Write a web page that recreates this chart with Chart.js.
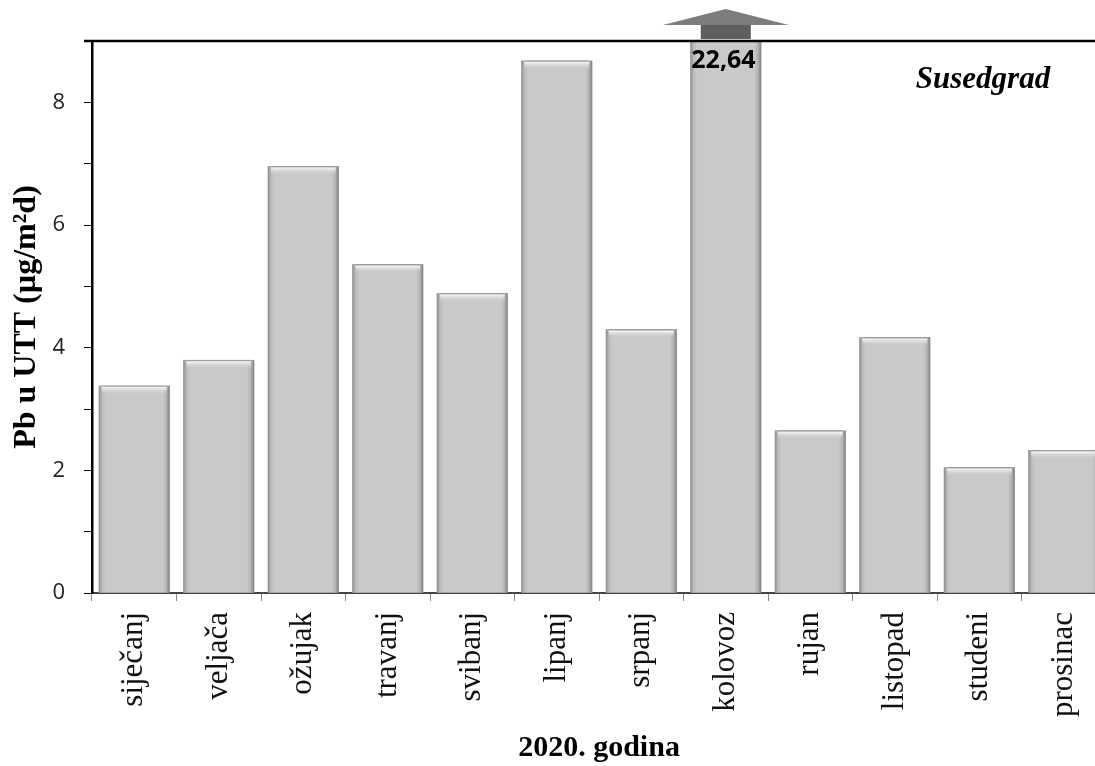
<!DOCTYPE html>
<html><head><meta charset="utf-8">
<script src="https://cdn.jsdelivr.net/npm/chart.js@4.4.1/dist/chart.umd.min.js"></script>
<style>
html,body{margin:0;padding:0;background:#fff;overflow:hidden;}
#wrap{width:1112px;height:766px;position:relative;}
</style></head>
<body>
<div id="wrap"><canvas id="c" width="1112" height="766"></canvas></div>
<script>
const months = ['siječanj','veljača','ožujak','travanj','svibanj','lipanj','srpanj','kolovoz','rujan','listopad','studeni','prosinac'];
const pbValues = [3.38, 3.80, 6.96, 5.36, 4.89, 8.68, 4.30, 22.64, 2.65, 4.17, 2.05, 2.33];
const yTickLabels = [0, 2, 4, 6, 8];
const outlierLabel = '22,64';
const stationName = 'Susedgrad';
const yTitle = 'Pb u UTT (µg/m²d)';
const xTitle = '2020. godina';
const Y_MAX = 9;

const decor = {
  id: 'decor',
  afterDatasetsDraw(chart) {
    const ctx = chart.ctx, area = chart.chartArea;
    const meta = chart.getDatasetMeta(0);
    ctx.save();
    ctx.beginPath(); ctx.rect(area.left, area.top, area.right - area.left, area.bottom - area.top); ctx.clip();
    meta.data.forEach(bar => {
      const l = bar.x - bar.width / 2, r = bar.x + bar.width / 2;
      const top = Math.max(bar.y, area.top), bot = bar.base;
      const g = ctx.createLinearGradient(l, 0, r, 0);
      g.addColorStop(0, '#8c8c8c');
      g.addColorStop(0.05, '#bdbdbd');
      g.addColorStop(0.1, '#c9c9c9');
      g.addColorStop(0.9, '#c9c9c9');
      g.addColorStop(0.95, '#b5b5b5');
      g.addColorStop(1, '#7f7f7f');
      ctx.fillStyle = g;
      ctx.fillRect(l, top, r - l, bot - top);
      if (bar.y >= area.top) {
        const vg = ctx.createLinearGradient(0, top, 0, top + 9);
        vg.addColorStop(0, '#7a7a7a');
        vg.addColorStop(0.2, '#f2f2f2');
        vg.addColorStop(1, 'rgba(201,201,201,0)');
        ctx.fillStyle = vg;
        ctx.fillRect(l + 3, top, r - l - 6, 9);
      }
    });
    ctx.restore();

    // outlier arrow and label
    const idx = pbValues.findIndex(v => v > Y_MAX);
    if (idx >= 0) {
      const b = meta.data[idx];
      const cx = b.x;
      ctx.save();
      ctx.fillStyle = '#7d7d7d';
      ctx.beginPath();
      ctx.moveTo(cx - 63, area.top - 16);
      ctx.lineTo(cx + 63, area.top - 16);
      ctx.lineTo(cx, area.top - 32);
      ctx.closePath(); ctx.fill();
      ctx.fillStyle = '#5f5f5f';
      ctx.fillRect(cx - 25, area.top - 16, 50, 14);
      ctx.fillStyle = '#000';
      ctx.font = 'bold 25px "Open Sans", "Liberation Sans", sans-serif';
      ctx.textAlign = 'left'; ctx.textBaseline = 'alphabetic';
      ctx.fillText(outlierLabel, b.x - b.width / 2 + 1, area.top + 27);
      ctx.restore();
    }
    // station name
    ctx.save();
    ctx.fillStyle = '#000';
    ctx.font = 'bold italic 31px "Liberation Serif", "DejaVu Serif", serif';
    ctx.textAlign = 'center'; ctx.textBaseline = 'alphabetic';
    ctx.fillText(stationName, 983, 88);
    ctx.restore();
  },
  afterDraw(chart) {
    const ctx = chart.ctx, area = chart.chartArea;
    ctx.save();
    ctx.strokeStyle = '#000'; ctx.lineWidth = 2.5;
    ctx.beginPath(); ctx.moveTo(area.left - 8, area.top); ctx.lineTo(chart.width, area.top); ctx.stroke();
    ctx.restore();
  }
};

new Chart(document.getElementById('c'), {
  type: 'bar',
  data: {
    labels: months,
    datasets: [{
      data: pbValues,
      backgroundColor: '#c9c9c9',
      borderWidth: 0,
      barPercentage: 0.84,
      categoryPercentage: 1.0
    }]
  },
  options: {
    responsive: false,
    animation: false,
    layout: { padding: { top: 41, left: 0, right: 0, bottom: 0 } },
    plugins: { legend: { display: false }, tooltip: { enabled: false } },
    scales: {
      x: {
        offset: true,
        grid: { display: true, offset: true, drawOnChartArea: false, drawTicks: true, tickLength: 8, color: '#888', lineWidth: 1 },
        border: { display: true, color: '#444', width: 2 },
        ticks: {
          maxRotation: 90, minRotation: 90, padding: 11,
          color: '#111',
          font: { family: '"Liberation Serif", "DejaVu Serif", serif', size: 31 }
        },
        title: {
          display: true, text: xTitle, color: '#000',
          font: { family: '"Liberation Serif", "DejaVu Serif", serif', size: 30, weight: 'bold' },
          padding: { top: 0, bottom: 0 }
        },
        afterFit(scale) { scale.height = 766 - 593; }
      },
      y: {
        min: 0, max: Y_MAX,
        grid: { display: true, drawOnChartArea: false, drawTicks: true, tickLength: 8, color: '#000', lineWidth: 1 },
        border: { display: true, color: '#000', width: 2.5 },
        ticks: {
          stepSize: 1, padding: 19, color: '#222',
          font: { family: '"Open Sans", "Liberation Sans", sans-serif', size: 22 },
          callback: (v) => yTickLabels.includes(v) ? String(v) : ''
        },
        title: {
          display: true, text: yTitle, color: '#000',
          font: { family: '"Liberation Serif", "DejaVu Serif", serif', size: 32, weight: 'bold' },
          padding: { top: 8, bottom: 0 }
        },
        afterFit(scale) { scale.width = 92; }
      }
    }
  },
  plugins: [decor]
});
</script>
</body></html>
